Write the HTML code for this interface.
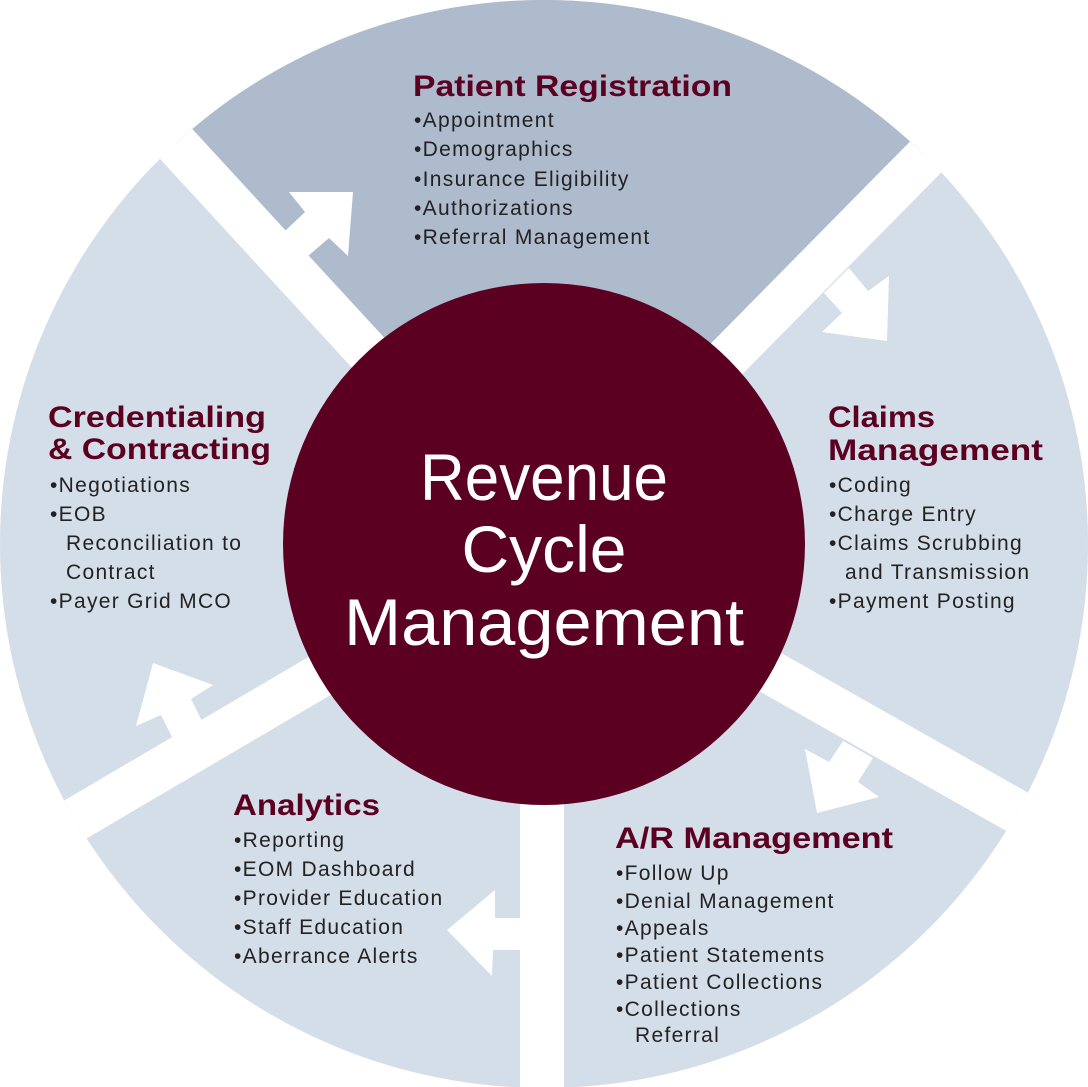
<!DOCTYPE html>
<html><head><meta charset="utf-8"><style>
html,body{margin:0;padding:0;background:#fff;width:1088px;height:1087px;overflow:hidden}
svg{display:block}
.h{font-family:"Liberation Sans",sans-serif;font-weight:bold;font-size:30px;fill:#5c0022}
.i{font-family:"Liberation Sans",sans-serif;font-size:21px;fill:#222;letter-spacing:1.3px}
.c{font-family:"Liberation Sans",sans-serif;font-size:66px;fill:#fff;text-anchor:middle}
</style></head><body>
<svg width="1088" height="1087" viewBox="0 0 1088 1087" xmlns="http://www.w3.org/2000/svg">
<defs><clipPath id="cc"><circle cx="544" cy="544" r="544"/></clipPath></defs>
<circle cx="544" cy="544" r="544" fill="#d4dee9"/>
<polygon points="544,544 2,-45 1106,-26" fill="#aebbcd" clip-path="url(#cc)"/>
<g stroke="#fff" stroke-width="44" clip-path="url(#cc)">
<line x1="544" y1="544" x2="-4" y2="-52"/>
<line x1="544" y1="544" x2="1114" y2="-34"/>
<line x1="544" y1="544" x2="1240" y2="938"/>
<line x1="542" y1="544" x2="542" y2="1120"/>
<line x1="544" y1="544" x2="-150" y2="952"/>
</g>
<g fill="#fff">
<polygon points="285,231 305,212 289,192 353,192 348,256 329,238 308,256"/>
<polygon points="849,268 868,291 889,276 887,341 822,332 842,313 824,293"/>
<polygon points="843,741 829,762 805,749 817,813 879,797 858,782 873,758"/>
<polygon points="521,918 495,918 495,890 447,930 492,976 493,950 521,950"/>
<polygon points="173,739 161,715 136,726 153,663 213,685 191,699 202,721"/>
</g>
<circle cx="544" cy="544" r="261" fill="#5c0022"/>
<text class="c" x="544" y="500" textLength="248" lengthAdjust="spacingAndGlyphs">Revenue</text>
<text class="c" x="544" y="572">Cycle</text>
<text class="c" x="544" y="645" textLength="400" lengthAdjust="spacingAndGlyphs">Management</text>

<text class="h" x="413" y="96" textLength="319" lengthAdjust="spacingAndGlyphs">Patient Registration</text>
<g class="i">
<text x="414" y="127">•Appointment</text>
<text x="414" y="156">•Demographics</text>
<text x="414" y="186">•Insurance Eligibility</text>
<text x="414" y="215">•Authorizations</text>
<text x="414" y="244">•Referral Management</text>
</g>

<text class="h" x="48" y="427" textLength="218" lengthAdjust="spacingAndGlyphs">Credentialing</text>
<text class="h" x="48" y="459" textLength="223" lengthAdjust="spacingAndGlyphs">&amp; Contracting</text>
<g class="i">
<text x="50" y="492">•Negotiations</text>
<text x="50" y="521">•EOB</text>
<text x="66" y="550">Reconciliation to</text>
<text x="66" y="579">Contract</text>
<text x="50" y="608">•Payer Grid MCO</text>
</g>

<text class="h" x="828" y="427" textLength="107" lengthAdjust="spacingAndGlyphs">Claims</text>
<text class="h" x="828" y="460" textLength="215" lengthAdjust="spacingAndGlyphs">Management</text>
<g class="i">
<text x="829" y="492">•Coding</text>
<text x="829" y="521">•Charge Entry</text>
<text x="829" y="550">•Claims Scrubbing</text>
<text x="845" y="579">and Transmission</text>
<text x="829" y="608">•Payment Posting</text>
</g>

<text class="h" x="233" y="815" textLength="147" lengthAdjust="spacingAndGlyphs">Analytics</text>
<g class="i">
<text x="234" y="847">•Reporting</text>
<text x="234" y="876">•EOM Dashboard</text>
<text x="234" y="905">•Provider Education</text>
<text x="234" y="934">•Staff Education</text>
<text x="234" y="963">•Aberrance Alerts</text>
</g>

<text class="h" x="615" y="848" textLength="278" lengthAdjust="spacingAndGlyphs">A/R Management</text>
<g class="i">
<text x="616" y="880">•Follow Up</text>
<text x="616" y="908">•Denial Management</text>
<text x="616" y="935">•Appeals</text>
<text x="616" y="962">•Patient Statements</text>
<text x="616" y="989">•Patient Collections</text>
<text x="616" y="1016">•Collections</text>
<text x="635" y="1042">Referral</text>
</g>
</svg>
</body></html>
